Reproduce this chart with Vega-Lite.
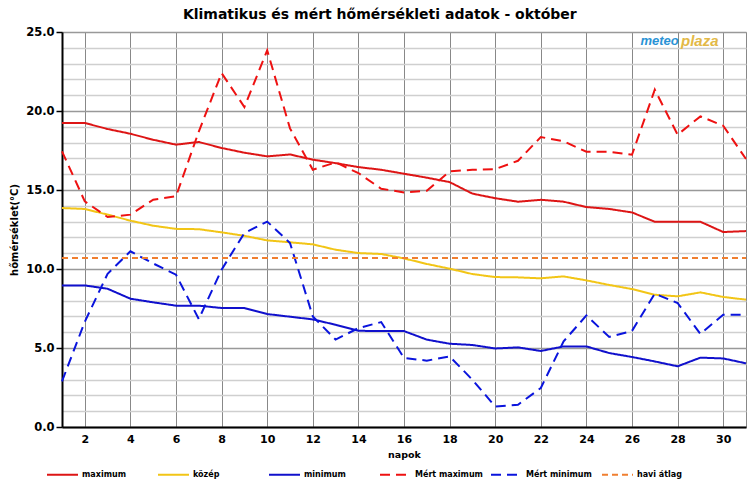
{
  "$schema": "https://vega.github.io/schema/vega-lite/v6.json",
  "width": 684,
  "height": 395,
  "autosize": {"type": "none"},
  "padding": {"left": 62, "top": 32, "right": 4, "bottom": 60},
  "background": "white",
  "title": {"text": "Klimatikus és mért hőmérsékleti adatok - október", "anchor": "middle", "frame": "bounds", "font": "DejaVu Sans", "fontSize": 14, "fontWeight": "bold", "color": "#000000", "offset": 4},
  "config": {"font": "DejaVu Sans", "view": {"stroke": "#888888", "strokeWidth": 1}},
  "layer": [
    {
      "data": {"values": [
        {"day": 1, "max": 19.24, "kozep": 13.86, "min": 8.96, "mert_max": 17.45, "mert_min": 2.89, "atlag": 10.7},
        {"day": 2, "max": 19.24, "kozep": 13.8, "min": 8.96, "mert_max": 14.28, "mert_min": 6.66, "atlag": 10.7},
        {"day": 3, "max": 18.86, "kozep": 13.44, "min": 8.75, "mert_max": 13.29, "mert_min": 9.7, "atlag": 10.7},
        {"day": 4, "max": 18.56, "kozep": 13.06, "min": 8.12, "mert_max": 13.44, "mert_min": 11.12, "atlag": 10.7},
        {"day": 5, "max": 18.18, "kozep": 12.74, "min": 7.89, "mert_max": 14.39, "mert_min": 10.35, "atlag": 10.7},
        {"day": 6, "max": 17.87, "kozep": 12.54, "min": 7.68, "mert_max": 14.6, "mert_min": 9.64, "atlag": 10.7},
        {"day": 7, "max": 18.04, "kozep": 12.52, "min": 7.68, "mert_max": 18.7, "mert_min": 6.83, "atlag": 10.7},
        {"day": 8, "max": 17.66, "kozep": 12.32, "min": 7.53, "mert_max": 22.4, "mert_min": 9.96, "atlag": 10.7},
        {"day": 9, "max": 17.36, "kozep": 12.1, "min": 7.53, "mert_max": 20.25, "mert_min": 12.28, "atlag": 10.7},
        {"day": 10, "max": 17.13, "kozep": 11.81, "min": 7.15, "mert_max": 23.84, "mert_min": 13.0, "atlag": 10.7},
        {"day": 11, "max": 17.25, "kozep": 11.69, "min": 6.98, "mert_max": 18.9, "mert_min": 11.65, "atlag": 10.7},
        {"day": 12, "max": 16.92, "kozep": 11.56, "min": 6.81, "mert_max": 16.28, "mert_min": 7.0, "atlag": 10.7},
        {"day": 13, "max": 16.7, "kozep": 11.22, "min": 6.47, "mert_max": 16.75, "mert_min": 5.53, "atlag": 10.7},
        {"day": 14, "max": 16.45, "kozep": 11.01, "min": 6.09, "mert_max": 16.07, "mert_min": 6.26, "atlag": 10.7},
        {"day": 15, "max": 16.28, "kozep": 10.95, "min": 6.07, "mert_max": 15.08, "mert_min": 6.64, "atlag": 10.7},
        {"day": 16, "max": 16.03, "kozep": 10.67, "min": 6.07, "mert_max": 14.85, "mert_min": 4.37, "atlag": 10.7},
        {"day": 17, "max": 15.78, "kozep": 10.32, "min": 5.53, "mert_max": 14.95, "mert_min": 4.2, "atlag": 10.7},
        {"day": 18, "max": 15.5, "kozep": 10.02, "min": 5.27, "mert_max": 16.18, "mert_min": 4.47, "atlag": 10.7},
        {"day": 19, "max": 14.77, "kozep": 9.68, "min": 5.19, "mert_max": 16.28, "mert_min": 2.99, "atlag": 10.7},
        {"day": 20, "max": 14.48, "kozep": 9.49, "min": 4.97, "mert_max": 16.32, "mert_min": 1.3, "atlag": 10.7},
        {"day": 21, "max": 14.26, "kozep": 9.47, "min": 5.04, "mert_max": 16.85, "mert_min": 1.41, "atlag": 10.7},
        {"day": 22, "max": 14.38, "kozep": 9.41, "min": 4.81, "mert_max": 18.35, "mert_min": 2.47, "atlag": 10.7},
        {"day": 23, "max": 14.26, "kozep": 9.53, "min": 5.1, "mert_max": 18.08, "mert_min": 5.42, "atlag": 10.7},
        {"day": 24, "max": 13.92, "kozep": 9.28, "min": 5.1, "mert_max": 17.42, "mert_min": 7.06, "atlag": 10.7},
        {"day": 25, "max": 13.8, "kozep": 8.99, "min": 4.68, "mert_max": 17.42, "mert_min": 5.7, "atlag": 10.7},
        {"day": 26, "max": 13.58, "kozep": 8.73, "min": 4.43, "mert_max": 17.23, "mert_min": 6.08, "atlag": 10.7},
        {"day": 27, "max": 12.99, "kozep": 8.37, "min": 4.15, "mert_max": 21.35, "mert_min": 8.44, "atlag": 10.7},
        {"day": 28, "max": 12.99, "kozep": 8.27, "min": 3.84, "mert_max": 18.5, "mert_min": 7.85, "atlag": 10.7},
        {"day": 29, "max": 12.99, "kozep": 8.52, "min": 4.39, "mert_max": 19.66, "mert_min": 5.89, "atlag": 10.7},
        {"day": 30, "max": 12.34, "kozep": 8.23, "min": 4.34, "mert_max": 19.07, "mert_min": 7.11, "atlag": 10.7},
        {"day": 31, "max": 12.4, "kozep": 8.06, "min": 4.03, "mert_max": 16.96, "mert_min": 7.11, "atlag": 10.7}
      ]},
      "transform": [{"fold": ["max", "kozep", "min", "mert_max", "mert_min", "atlag"], "as": ["series", "temp"]}],
      "mark": {"type": "line", "strokeCap": "butt", "strokeJoin": "miter"},
      "encoding": {
        "x": {
          "field": "day", "type": "quantitative",
          "scale": {"domain": [1, 31], "nice": false, "zero": false},
          "axis": {
            "values": [2, 4, 6, 8, 10, 12, 14, 16, 18, 20, 22, 24, 26, 28, 30],
            "tickCount": 40,
            "format": "d", "title": "napok", "grid": true, "gridColor": "#888888", "gridWidth": 1,
            "ticks": false, "domainColor": "#000000", "domainWidth": 2,
            "labelFontSize": 11, "labelFontWeight": "bold", "labelColor": "#000000", "labelPadding": 6,
            "titleFontSize": 9.5, "titleFontWeight": "bold", "titleColor": "#000000", "titlePadding": 5
          }
        },
        "y": {
          "field": "temp", "type": "quantitative",
          "scale": {"domain": [0, 25], "nice": false},
          "axis": {
            "values": [0, 1, 2, 3, 4, 5, 6, 7, 8, 9, 10, 11, 12, 13, 14, 15, 16, 17, 18, 19, 20, 21, 22, 23, 24, 25],
            "tickCount": 40,
            "labelExpr": "datum.value % 5 === 0 ? format(datum.value, '.1f') : ''",
            "labelOverlap": false,
            "title": "hőmérséklet(°C)",
            "labelFontSize": 11.5, "labelFontWeight": "bold", "labelColor": "#000000", "labelPadding": 2,
            "tickSize": 6, "tickColor": "#000000", "tickWidth": 1.5,
            "tickOpacity": {"condition": {"test": "datum.value % 5 === 0", "value": 1}, "value": 0},
            "domainColor": "#000000", "domainWidth": 2,
            "grid": true,
            "gridColor": {"condition": {"test": "datum.value % 5 === 0", "value": "#999999"}, "value": "#cfcfcf"},
            "gridWidth": 1.5,
            "titleFontSize": 10, "titleFontWeight": "bold", "titleColor": "#000000", "titlePadding": 6
          }
        },
        "color": {
          "field": "series", "type": "nominal",
          "scale": {"domain": ["max", "kozep", "min", "mert_max", "mert_min", "atlag"], "range": ["#dd1515", "#f2c516", "#1010cc", "#ee1111", "#0a14dd", "#f07f30"]},
          "legend": {
            "title": null, "orient": "none", "direction": "horizontal", "columns": 6, "gridAlign": "all",
            "legendX": -16, "legendY": 426, "columnPadding": 4,
            "symbolType": "stroke", "symbolSize": 961, "labelOffset": 3,
            "labelFont": "DejaVu Sans", "labelFontSize": 8, "labelFontWeight": "bold", "labelColor": "#000000",
            "labelExpr": "{'max': 'maximum', 'kozep': 'közép', 'min': 'minimum', 'mert_max': 'Mért maximum', 'mert_min': 'Mért minimum', 'atlag': 'havi átlag'}[datum.value]"
          }
        },
        "strokeDash": {
          "field": "series", "type": "nominal",
          "scale": {"domain": ["max", "kozep", "min", "mert_max", "mert_min", "atlag"], "range": [[1, 0], [1, 0], [1, 0], [10, 6], [10, 6], [6, 4]]}
        },
        "strokeWidth": {
          "field": "series", "type": "nominal",
          "scale": {"domain": ["max", "kozep", "min", "mert_max", "mert_min", "atlag"], "range": [2, 2, 2, 4, 4, 2]}
        }
      }
    },
    {
      "data": {"values": [{}]},
      "mark": {"type": "text", "text": "meteo", "align": "right", "baseline": "middle", "font": "Liberation Sans", "fontSize": 13, "fontWeight": "bold", "fontStyle": "italic", "color": "#2a93d5"},
      "encoding": {"x": {"datum": 28.05}, "y": {"datum": 24.4}}
    },
    {
      "data": {"values": [{}]},
      "mark": {"type": "text", "text": "plaza", "align": "left", "baseline": "middle", "font": "Liberation Sans", "fontSize": 15, "fontWeight": "bold", "fontStyle": "italic", "color": "#e3b947"},
      "encoding": {"x": {"datum": 28.15}, "y": {"datum": 24.4}}
    }
  ]
}
